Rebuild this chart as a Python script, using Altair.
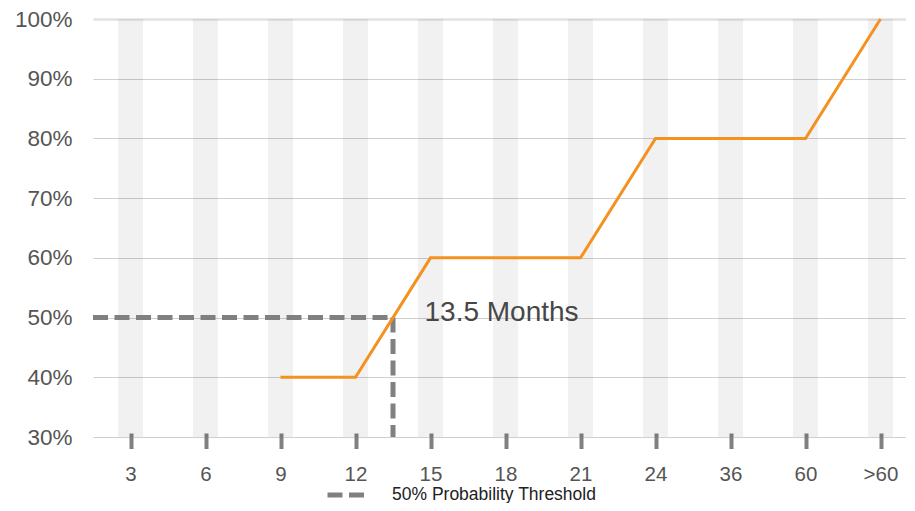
import json
import altair as alt
import pandas as pd

# ---- data ----
categories = ["3", "6", "9", "12", "15", "18", "21", "24", "36", "60", ">60"]
probability = [None, None, 0.40, 0.40, 0.60, 0.60, 0.60, 0.80, 0.80, 0.80, 1.00]
threshold = 0.50
threshold_name = "50% Probability Threshold"
y_ticks = [0.3, 0.4, 0.5, 0.6, 0.7, 0.8, 0.9, 1.0]

idx = list(range(len(categories)))

# crossing of the 50% threshold (linear interpolation on the data)
cross_idx, cross_month = None, None
for i in range(len(categories) - 1):
    a, b = probability[i], probability[i + 1]
    if a is not None and b is not None and a < threshold <= b:
        frac = (threshold - a) / (b - a)
        cross_idx = i + frac
        cross_month = int(categories[i]) + frac * (int(categories[i + 1]) - int(categories[i]))
        break

PLOT_W, PLOT_H = 813, 418
x_min = -0.5
x_max = x_min + PLOT_W / 75.0
y_min, y_max = y_ticks[0], y_ticks[-1]

bands_df = pd.DataFrame({"i": idx, "lo": y_min, "hi": y_max})
line_df = pd.DataFrame({"i": idx, "p": probability}).dropna()
thr_df = pd.DataFrame({
    "x": [x_min, cross_idx],
    "x2": [cross_idx, cross_idx],
    "y": [threshold, threshold],
    "y2": [threshold, y_min],
    "series": [threshold_name, threshold_name],
})
text_df = pd.DataFrame({"x": [cross_idx], "y": [threshold],
                        "label": [f"{cross_month:g} Months"]})

label_expr = f"{json.dumps(categories)}[datum.value]"

xscale = alt.Scale(domain=[x_min, x_max], nice=False, zero=False)
yscale = alt.Scale(domain=[y_min, y_max], nice=False, zero=False)

FONT = "Liberation Sans"

x_axis = alt.Axis(values=idx, labelExpr=label_expr, title=None, grid=False,
                  domain=False, ticks=True, tickColor="#808080", tickWidth=4,
                  tickSize=15.5, offset=-4, labelPadding=16, labelFontSize=20.5,
                  labelColor="#555555", labelFont=FONT)
y_axis = alt.Axis(values=y_ticks, format=".0%", title=None, grid=True,
                  gridColor={"condition": {"test": "datum.value >= 0.999", "value": "#e2e2e2"},
                             "value": "#cfcfcf"},
                  gridWidth={"condition": {"test": "datum.value >= 0.999", "value": 2.5},
                             "value": 1},
                  domain=False, ticks=False, labelPadding=21, labelFontSize=22.5,
                  labelColor="#555555", labelFont=FONT)

bands = alt.Chart(bands_df).mark_rule(strokeWidth=25, color="#000000", opacity=0.055).encode(
    x=alt.X("i:Q", scale=xscale, axis=x_axis),
    y=alt.Y("lo:Q", scale=yscale, axis=y_axis),
    y2="hi:Q",
)

line = alt.Chart(line_df).mark_line(color="#F5911F", strokeWidth=3).encode(
    x=alt.X("i:Q", scale=xscale),
    y=alt.Y("p:Q", scale=yscale),
)

thr = alt.Chart(thr_df).mark_rule(strokeWidth=5, strokeDash=[15, 6.5]).encode(
    x=alt.X("x:Q", scale=xscale),
    x2="x2:Q",
    y=alt.Y("y:Q", scale=yscale),
    y2="y2:Q",
    color=alt.Color("series:N",
                    scale=alt.Scale(domain=[threshold_name], range=["#808080"]),
                    legend=alt.Legend(orient="none", legendX=232, legendY=455, title=None,
                                      symbolType="stroke", symbolSize=1369,
                                      symbolStrokeWidth=5, symbolDash=[15, 6.5],
                                      labelFontSize=17.5, labelColor="#222222",
                                      labelFont=FONT, labelOffset=25, labelLimit=500,
                                      padding=0)),
)

text = alt.Chart(text_df).mark_text(align="left", baseline="alphabetic", dx=31.5, dy=3,
                                    fontSize=28, color="#474747",
                                    font=FONT).encode(
    x=alt.X("x:Q", scale=xscale),
    y=alt.Y("y:Q", scale=yscale),
    text="label:N",
)

chart = alt.layer(bands, thr, line, text).properties(
    width=PLOT_W, height=PLOT_H,
    autosize=alt.AutoSizeParams(type="none"),
    padding={"left": 85, "top": 11, "right": 0, "bottom": 66},
    background="white",
).configure_view(stroke=None)

chart.save("out.html", embed_options={"renderer": "svg", "actions": False})
